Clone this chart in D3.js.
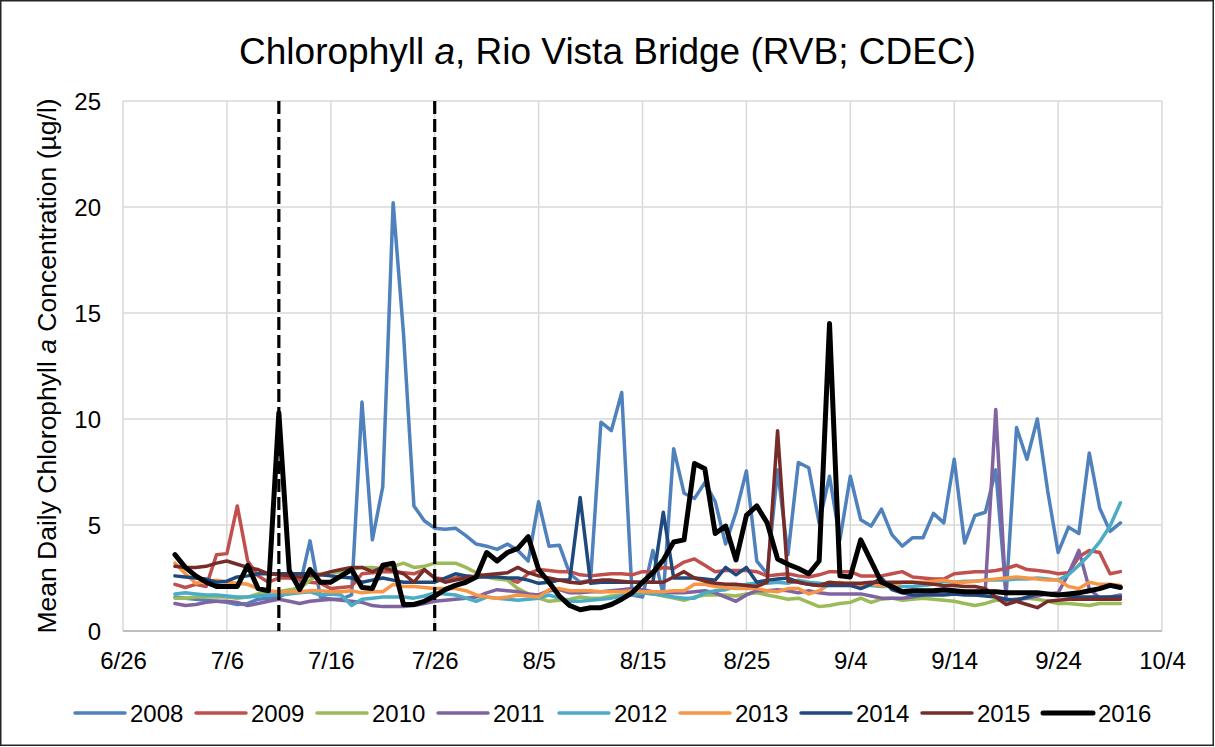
<!DOCTYPE html>
<html>
<head>
<meta charset="utf-8">
<script src="https://cdn.jsdelivr.net/npm/d3@7"></script>
<style>
  html, body { margin: 0; padding: 0; background: #fff; }
  svg { display: block; font-family: "Liberation Sans", Arial, sans-serif; }
</style>
</head>
<body>
<svg id="chart" width="1215" height="747"></svg>
<script>
// Daily series start on 7/1 and run for 92 days
const startDate = "7/1";
const years = ["2008", "2009", "2010", "2011", "2012", "2013", "2014", "2015", "2016"];
const colors = ["#4F81BD", "#C0504D", "#9BBB59", "#8064A2", "#4BACC6", "#F79646", "#1F497D", "#772C2A", "#000000"];
const xTickLabels = ["6/26", "7/6", "7/16", "7/26", "8/5", "8/15", "8/25", "9/4", "9/14", "9/24", "10/4"];
const yTicks = [0, 5, 10, 15, 20, 25];
const markerDates = ["7/11", "7/26"];

const v2008 = [1.6,1.55,1.5,1.45,1.4,1.35,1.25,1.3,1.5,1.55,
  1.6,1.85,2.1,4.25,1.6,1.5,1.5,1.7,10.8,4.3,
  6.8,20.2,14.0,5.9,5.2,4.85,4.8,4.85,4.5,4.1,
  4.0,3.85,4.1,3.8,3.3,6.1,4.0,4.05,2.7,2.3,
  2.4,9.85,9.45,11.25,1.7,1.6,3.8,1.7,8.6,6.5,
  6.25,7.0,6.1,4.1,5.6,7.55,3.3,2.7,7.6,3.6,
  7.95,7.7,5.1,7.3,4.3,7.3,5.25,4.95,5.75,4.55,
  4.0,4.4,4.4,5.55,5.1,8.1,4.15,5.45,5.6,7.6,
  1.7,9.6,8.1,10.0,6.6,3.7,4.9,4.6,8.4,5.8,
  4.7,5.1];
const v2009 = [2.2,2.05,2.2,2.1,3.6,3.65,5.9,3.3,2.6,2.3,
  2.5,2.5,2.4,2.3,2.25,2.0,2.05,2.1,2.7,2.75,
  2.8,2.8,2.75,2.7,2.9,2.5,2.45,2.5,2.6,2.55,
  2.6,2.5,2.45,2.3,2.7,2.9,2.85,2.8,2.8,2.65,
  2.6,2.65,2.7,2.7,2.65,2.8,2.8,3.0,2.95,3.25,
  3.4,3.1,2.8,2.85,2.85,2.85,2.8,2.6,2.65,2.7,
  2.6,2.55,2.65,2.8,2.8,2.8,2.6,2.6,2.6,2.7,
  2.8,2.55,2.5,2.45,2.45,2.7,2.75,2.8,2.8,2.85,
  2.95,3.1,2.9,2.85,2.8,2.7,2.75,3.5,3.8,3.7,
  2.7,2.8];
const v2010 = [1.55,1.55,1.6,1.6,1.6,1.6,1.55,1.6,1.75,1.85,
  1.85,1.95,2.0,2.4,2.7,2.75,2.8,2.9,3.0,3.0,
  2.95,3.05,3.2,3.0,3.05,3.2,3.2,3.2,3.0,2.75,
  2.55,2.45,2.4,2.0,1.75,1.55,1.4,1.45,1.5,1.6,
  1.55,1.55,1.65,1.7,1.8,1.8,1.75,1.65,1.55,1.45,
  1.6,1.7,1.7,1.7,1.65,1.75,1.8,1.7,1.6,1.5,
  1.55,1.35,1.15,1.2,1.3,1.35,1.55,1.35,1.5,1.55,
  1.45,1.5,1.55,1.5,1.45,1.4,1.3,1.2,1.3,1.45,
  1.45,1.5,1.55,1.5,1.4,1.3,1.3,1.25,1.2,1.3,
  1.3,1.3];
const v2011 = [1.3,1.2,1.25,1.35,1.4,1.4,1.35,1.2,1.3,1.4,
  1.5,1.4,1.3,1.4,1.45,1.5,1.45,1.4,1.35,1.2,
  1.15,1.15,1.15,1.2,1.3,1.4,1.45,1.5,1.55,1.6,
  1.8,1.95,1.9,1.85,1.75,1.7,1.9,1.95,1.8,1.8,
  1.85,1.85,1.9,1.95,2.0,1.95,1.85,1.8,1.8,1.8,
  1.85,1.9,1.8,1.6,1.4,1.7,1.9,1.9,1.95,1.9,
  1.8,1.9,1.8,1.75,1.75,1.75,1.75,1.65,1.55,1.55,
  1.55,1.6,1.7,1.8,1.85,1.85,1.75,1.7,2.0,10.45,
  1.45,1.5,1.55,1.65,1.75,1.8,2.7,3.8,2.0,1.55,
  1.6,1.7];
const v2012 = [1.75,1.8,1.75,1.7,1.7,1.65,1.6,1.6,1.65,1.7,
  1.7,1.75,1.8,1.85,1.7,1.75,1.7,1.2,1.5,1.55,
  1.6,1.6,1.6,1.55,1.65,1.8,1.75,1.7,1.55,1.4,
  1.6,1.55,1.5,1.45,1.5,1.55,1.7,1.55,1.4,1.4,
  1.45,1.5,1.55,1.65,1.7,1.8,1.75,1.7,1.6,1.55,
  1.55,1.8,1.9,1.95,2.1,2.2,2.25,2.25,2.3,2.25,
  2.4,2.3,2.25,2.2,2.2,2.15,2.2,2.15,2.1,2.1,
  2.1,2.1,2.15,2.2,2.35,2.3,2.35,2.35,2.4,2.4,
  2.4,2.45,2.45,2.5,2.45,2.4,2.65,3.1,3.6,4.2,
  4.95,6.05];
const v2013 = [3.2,2.7,2.25,2.35,2.4,2.3,2.25,2.2,2.0,1.9,
  1.85,1.85,1.85,1.9,1.9,1.85,1.85,1.9,1.8,1.85,
  1.85,2.2,2.1,2.1,2.05,2.0,2.0,2.0,1.9,1.7,
  1.6,1.55,1.6,1.7,1.65,1.6,1.95,2.0,1.9,1.9,
  1.9,1.85,1.85,1.85,1.9,1.85,1.85,1.85,1.9,1.9,
  2.2,2.2,2.1,2.05,2.0,2.0,2.0,1.9,1.85,2.0,
  2.0,1.75,1.9,2.2,2.3,2.15,2.1,2.2,2.15,2.1,
  2.3,2.3,2.3,2.35,2.4,2.3,2.3,2.35,2.4,2.45,
  2.5,2.55,2.5,2.45,2.4,2.4,2.1,2.0,2.3,2.2,
  2.2,2.15];
const v2014 = [2.6,2.55,2.5,2.45,2.3,2.35,2.55,2.6,2.7,2.7,
  2.7,2.7,2.7,2.7,2.65,2.6,2.55,2.5,2.3,2.4,
  2.5,2.4,2.3,2.3,2.3,2.3,2.5,2.7,2.6,2.55,
  2.55,2.55,2.5,2.5,2.4,2.25,2.3,2.4,2.4,6.3,
  2.25,2.3,2.3,2.3,2.3,2.3,2.3,5.6,2.5,2.5,
  2.5,2.45,2.4,3.0,2.65,3.0,2.3,2.4,2.45,2.5,
  2.3,2.2,2.15,2.15,2.15,2.15,2.0,2.2,2.5,1.95,
  1.8,1.7,1.7,1.7,1.7,1.75,1.7,1.7,1.65,1.6,
  1.5,1.45,1.6,1.75,1.75,1.7,1.65,1.6,1.6,1.6,
  1.6,1.6];
const v2015 = [3.05,3.0,3.0,3.05,3.2,3.3,3.15,3.0,2.9,2.7,
  2.65,2.6,2.55,2.6,2.65,2.8,2.9,3.0,3.0,2.8,
  3.0,2.85,2.7,2.3,2.9,2.5,2.3,2.4,2.5,2.6,
  2.65,2.7,2.75,3.0,2.75,2.6,2.5,2.4,2.3,2.25,
  2.35,2.4,2.4,2.35,2.3,2.3,2.3,2.3,2.55,2.8,
  2.5,2.35,2.25,2.2,2.2,2.15,2.1,2.3,9.45,2.35,
  2.3,2.2,2.15,2.3,2.25,2.25,2.25,2.3,2.3,2.3,
  2.3,2.3,2.25,2.2,2.15,2.15,2.1,2.1,2.0,1.6,
  1.25,1.4,1.25,1.1,1.4,1.45,1.5,1.5,1.5,1.5,
  1.5,1.5];
const v2016 = [3.6,3.0,2.6,2.3,2.1,2.1,2.1,3.1,2.0,1.9,
  10.3,2.85,1.95,2.9,2.3,2.3,2.6,2.9,2.05,2.0,
  3.1,3.2,1.25,1.25,1.4,1.65,1.95,2.15,2.3,2.55,
  3.7,3.3,3.7,3.9,4.45,2.9,2.3,1.65,1.2,1.0,
  1.1,1.1,1.25,1.5,1.8,2.3,2.75,3.35,4.2,4.3,
  7.9,7.65,4.6,4.95,3.35,5.45,5.9,5.1,3.4,3.15,
  2.95,2.7,3.3,14.5,2.6,2.55,4.3,3.3,2.3,2.1,
  1.85,1.9,1.9,1.9,1.95,1.9,1.85,1.85,1.85,1.85,
  1.8,1.8,1.8,1.8,1.75,1.7,1.75,1.8,1.9,2.0,
  2.15,2.05];

const seriesValues = [v2008, v2009, v2010, v2011, v2012, v2013, v2014, v2015, v2016];

// Month/day labels are placed on a common calendar year
const parseMD = s => { const [m, d] = s.split("/").map(Number); return new Date(Date.UTC(2016, m - 1, d)); };

const svg = d3.select("#chart");
const W = 1215, H = 747;
const plot = { left: 123, right: 1162, top: 101, bottom: 631 };

// Chart border
svg.append("rect")
  .attr("x", 0.75).attr("y", 0.75).attr("width", W - 2.5).attr("height", H - 2.5)
  .attr("fill", "#fff").attr("stroke", "#262626").attr("stroke-width", 1.5);

const xTickDates = xTickLabels.map(parseMD);
const x = d3.scaleUtc()
  .domain([xTickDates[0], xTickDates[xTickDates.length - 1]])
  .range([plot.left, plot.right]);
const y = d3.scaleLinear().domain([0, 25]).range([plot.bottom, plot.top]);

// Gridlines
const grid = svg.append("g");
grid.selectAll(".vg").data(xTickDates).enter().append("line")
  .attr("x1", d => x(d)).attr("x2", d => x(d))
  .attr("y1", plot.top).attr("y2", plot.bottom)
  .attr("stroke", "#d9d9d9").attr("stroke-width", 1.5);
grid.selectAll(".hg").data(yTicks.filter(t => t > 0)).enter().append("line")
  .attr("x1", plot.left).attr("x2", plot.right)
  .attr("y1", d => y(d)).attr("y2", d => y(d))
  .attr("stroke", "#d9d9d9").attr("stroke-width", 1.5);

// Axes (labels only, with a grey baseline)
const xAxis = d3.axisBottom(x).tickValues(xTickDates)
  .tickFormat((d, i) => xTickLabels[i]).tickSize(0).tickPadding(0);
const gx = svg.append("g").attr("transform", `translate(0,${plot.bottom})`).call(xAxis);
gx.select(".domain").remove();
gx.selectAll("text").attr("font-size", 24).attr("fill", "#000")
  .attr("dy", null).attr("y", 38);

const yAxis = d3.axisLeft(y).tickValues(yTicks).tickSize(0).tickPadding(0);
const gy = svg.append("g").attr("transform", `translate(${plot.left - 22},0)`).call(yAxis);
gy.select(".domain").remove();
gy.selectAll("text").attr("font-size", 24).attr("fill", "#000").attr("dy", "0.36em");

svg.append("line")
  .attr("x1", plot.left).attr("x2", plot.right)
  .attr("y1", plot.bottom).attr("y2", plot.bottom)
  .attr("stroke", "#bfbfbf").attr("stroke-width", 2);

// Series lines
const t0 = parseMD(startDate);
const days = d3.range(v2016.length).map(i => d3.utcDay.offset(t0, i));
const line = d3.line().x((d, i) => x(days[i])).y(d => y(d));

const lines = svg.append("g").attr("fill", "none")
  .attr("stroke-linejoin", "round").attr("stroke-linecap", "round");
years.forEach((yr, k) => {
  lines.append("path")
    .datum(seriesValues[k])
    .attr("d", line)
    .attr("stroke", colors[k])
    .attr("stroke-width", yr === "2016" ? 5 : 3.5);
});

// Vertical dashed markers
svg.append("g").selectAll("line").data(markerDates.map(parseMD)).enter().append("line")
  .attr("x1", d => x(d)).attr("x2", d => x(d))
  .attr("y1", plot.top).attr("y2", plot.bottom)
  .attr("stroke", "#000").attr("stroke-width", 3.2)
  .attr("stroke-dasharray", "13,5");

// Title
const title = svg.append("text")
  .attr("x", W / 2).attr("y", 64).attr("text-anchor", "middle")
  .attr("font-size", 37).attr("fill", "#000");
title.append("tspan").text("Chlorophyll ");
title.append("tspan").attr("font-style", "italic").text("a");
title.append("tspan").text(", Rio Vista Bridge (RVB; CDEC)");

// Y axis title
const yTitle = svg.append("text")
  .attr("transform", `translate(56,${(plot.top + plot.bottom) / 2}) rotate(-90)`)
  .attr("text-anchor", "middle").attr("font-size", 26.5).attr("fill", "#000");
yTitle.append("tspan").text("Mean Daily Chlorophyll ");
yTitle.append("tspan").attr("font-style", "italic").text("a");
yTitle.append("tspan").text(" Concentration (µg/l)");

// Legend
const legend = svg.append("g").attr("transform", "translate(75,713)");
years.forEach((yr, k) => {
  const g = legend.append("g").attr("transform", `translate(${k * 121},0)`);
  g.append("line").attr("x1", 0).attr("x2", 50).attr("y1", 0).attr("y2", 0)
    .attr("stroke", colors[k]).attr("stroke-width", yr === "2016" ? 5 : 3.5)
    .attr("stroke-linecap", "round");
  g.append("text").attr("x", 55).attr("y", 0).attr("dy", "0.36em")
    .attr("font-size", 24).attr("fill", "#000").text(yr);
});
</script>
</body>
</html>
